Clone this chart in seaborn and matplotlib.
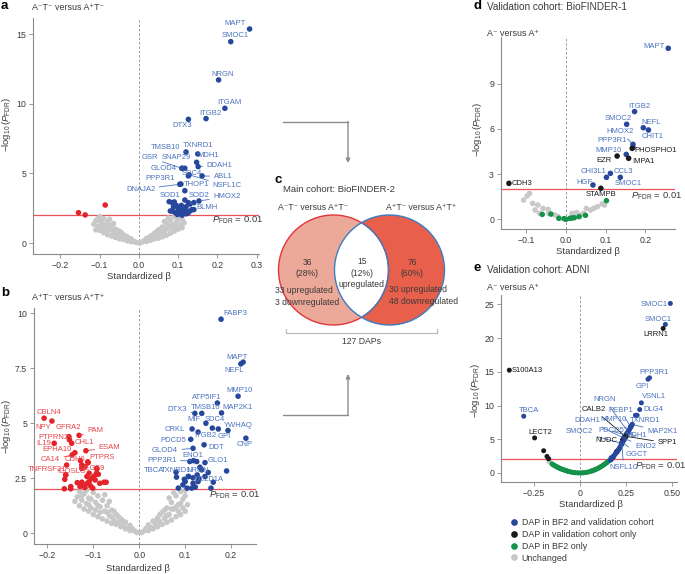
import numpy as np
import pandas as pd
import matplotlib.pyplot as plt
import seaborn as sns
from matplotlib.patches import Circle
from matplotlib.lines import Line2D

sns.set_theme(style="ticks")
plt.rcParams["font.family"] = ["Liberation Sans", "DejaVu Sans"]
plt.rcParams["mathtext.fontset"] = "custom"
plt.rcParams["mathtext.rm"] = "Liberation Sans"
plt.rcParams["mathtext.it"] = "Liberation Sans:italic"

BLUE, BLUE_TXT = "#26479B", "#4A72BE"
RED, RED_TXT = "#E3222A", "#E8434B"
GRAY, BLACK, GREEN = "#C8C8C8", "#1A1A1A", "#14924A"
AXC, TXT = "#8A8A8A", "#3A3A3A"
PAL = {"up": BLUE, "down": RED, "ns": GRAY, "both": BLUE, "val": BLACK, "bf2": GREEN}
LABEL_COL = {"up": BLUE_TXT, "down": RED_TXT, "both": BLUE_TXT, "val": BLACK}

# ---------------- panel a: A-T- vs A+T- ----------------
a_lab_genes = ["MAPT", "SMOC1", "NRGN", "ITGAM", "ITGB2", "DTX3", "TMSB10", "TXNRD1", "MDH1",
               "SNAP29", "GSR", "GLOD4", "DDAH1", "SDC4", "ABL1", "NSFL1C", "PPP3R1", "DNAJA2",
               "THOP1", "SOD1", "SOD2", "HMOX2", "BLMH"]
a_lab_beta = [0.282, 0.234, 0.203, 0.219, 0.171, 0.126, 0.120, 0.150, 0.147, 0.117, 0.109, 0.113,
              0.151, 0.126, 0.161, 0.128, 0.107, 0.104, 0.117, 0.077, 0.117, 0.153, 0.126]
a_lab_logp = [15.38, 14.47, 11.72, 9.68, 8.94, 8.89, 6.54, 6.40, 5.80, 5.37, 5.37, 5.35, 5.49, 4.82,
              4.82, 4.90, 4.24, 4.22, 3.76, 2.97, 3.09, 3.02, 2.90]
a_up_beta = [0.085, 0.090, 0.095, 0.100, 0.085, 0.092, 0.100, 0.110, 0.115, 0.120, 0.125, 0.130, 0.135,
             0.140, 0.105, 0.098, 0.110, 0.130, 0.120, 0.140, 0.080, 0.095, 0.088, 0.108, 0.118]
a_up_logp = [2.90, 2.95, 2.70, 2.50, 2.30, 2.20, 2.30, 2.40, 2.20, 2.10, 2.15, 2.30, 2.40, 2.40, 2.10,
             2.05, 2.00, 2.80, 2.60, 2.90, 2.30, 2.15, 2.60, 2.70, 2.35]
a_down_beta = [-0.086, -0.154, -0.137]
a_down_logp = [2.73, 2.18, 2.02]
a_ns_beta = [-0.005, -0.01, -0.015, -0.02, -0.02, -0.025, -0.03, -0.03, -0.035, -0.04, -0.04, -0.045,
             -0.05, -0.05, -0.055, -0.06, -0.06, -0.065, -0.07, -0.07, -0.075, -0.08, -0.08, -0.085,
             -0.09, -0.09, -0.095, -0.1, -0.1, -0.105, -0.11, -0.11, -0.115, -0.085, -0.075, -0.065,
             -0.095, -0.1, -0.055, -0.045, -0.105, -0.09, -0.07, -0.035, -0.06, -0.08,
             0.005, 0.01, 0.015, 0.02, 0.02, 0.025, 0.03, 0.03, 0.035, 0.04, 0.04, 0.045, 0.05, 0.05,
             0.055, 0.06, 0.06, 0.065, 0.07, 0.07, 0.075, 0.08, 0.08, 0.085, 0.09, 0.09, 0.095, 0.1,
             0.1, 0.105, 0.11, 0.11, 0.115, 0.085, 0.075, 0.065, 0.095, 0.1, 0.055, 0.045, 0.105,
             0.09, 0.07, 0.035, 0.06, 0.08]
a_ns_logp = [0.02, 0.08, 0.15, 0.1, 0.3, 0.2, 0.45, 0.15, 0.3, 0.6, 0.25, 0.45, 0.85, 0.3, 0.6, 1.0,
             0.4, 0.75, 1.25, 0.5, 0.95, 1.5, 0.6, 1.15, 1.75, 0.75, 1.4, 1.9, 0.9, 1.2, 1.6, 0.95,
             1.35, 0.9, 1.7, 1.4, 1.05, 1.6, 0.9, 0.75, 1.75, 1.3, 0.95, 0.5, 0.75, 1.1,
             0.03, 0.1, 0.2, 0.12, 0.35, 0.25, 0.5, 0.2, 0.35, 0.7, 0.3, 0.5, 0.95, 0.35, 0.65, 1.15,
             0.45, 0.85, 1.4, 0.55, 1.1, 1.65, 0.7, 1.3, 1.9, 0.85, 1.5, 1.95, 1.0, 1.3, 1.7, 1.1,
             1.45, 0.95, 1.8, 1.55, 1.15, 1.7, 1.0, 0.8, 1.85, 1.2, 1.0, 0.55, 0.8, 1.25]

# ---------------- panel b: A+T- vs A+T+ ----------------
b_up_genes = ["FABP3", "MAPT", "NEFL", "MMP10", "ATP5IF1", "MAP2K1", "TMSB10", "DTX3", "MIF", "SDC4",
              "YWHAQ", "GPI", "CRKL", "ITGB2", "CNP", "PDCD5", "DDT", "GLOD4", "ENO1", "GLO1",
              "PPP3R1", "TBCA", "TXNRD1", "NRGN", "CC2D1A"]
b_up_beta = [0.178, 0.226, 0.221, 0.215, 0.170, 0.179, 0.136, 0.121, 0.145, 0.159, 0.193, 0.172,
             0.115, 0.128, 0.232, 0.112, 0.141, 0.117, 0.125, 0.143, 0.118, 0.107, 0.117, 0.126, 0.130]
b_up_logp = [9.73, 7.78, 7.70, 6.23, 5.92, 5.47, 5.45, 5.45, 5.00, 4.78, 4.67, 4.74, 4.74, 4.60,
             4.32, 4.27, 4.02, 3.86, 3.26, 3.21, 3.30, 2.58, 2.52, 2.65, 2.47]
b_up2_beta = [0.080, 0.081, 0.085, 0.100, 0.104, 0.107, 0.114, 0.117, 0.136, 0.150, 0.161, 0.156,
              0.143, 0.190, 0.095, 0.122, 0.128, 0.132, 0.098, 0.110]
b_up2_logp = [2.77, 2.55, 2.05, 2.35, 2.05, 2.58, 2.05, 2.27, 2.88, 2.76, 2.32, 2.05, 2.58, 2.83,
              2.20, 2.10, 2.35, 3.00, 2.45, 3.26]
b_dn_genes = ["CBLN4", "NPY", "GFRA2", "PAM", "PTPRN2", "CHL1", "IL19", "EPHA10", "ESAM", "CA14",
              "CDH6", "PTPRS", "TNFRSF21", "ICOSLG", "MEGF9"]
b_dn_beta = [-0.207, -0.190, -0.153, -0.131, -0.152, -0.147, -0.185, -0.140, -0.116, -0.146, -0.128,
             -0.112, -0.160, -0.125, -0.092]
b_dn_logp = [5.23, 5.10, 4.39, 4.45, 4.25, 4.09, 4.09, 3.66, 3.75, 3.56, 3.30, 3.25, 2.65, 2.95, 2.93]
b_dn2_beta = [-0.163, -0.149, -0.149, -0.162, -0.160, -0.158, -0.129, -0.125, -0.122, -0.118, -0.113,
              -0.109, -0.106, -0.101, -0.096, -0.093, -0.089, -0.086, -0.093, -0.109, -0.125, -0.118,
              -0.111, -0.077, -0.072, -0.114, -0.104, -0.135, -0.098]
b_dn2_logp = [2.02, 2.12, 2.02, 2.45, 2.65, 3.10, 2.12, 2.32, 2.20, 2.08, 2.27, 2.35, 2.15, 2.05, 2.42,
              2.73, 2.68, 2.27, 2.95, 2.73, 3.10, 3.03, 3.21, 2.32, 2.32, 2.58, 2.50, 2.30, 2.60]
b_ns_beta = [-0.005, -0.01, -0.015, -0.02, -0.02, -0.025, -0.03, -0.03, -0.035, -0.04, -0.04, -0.045,
             -0.05, -0.05, -0.055, -0.06, -0.06, -0.065, -0.07, -0.07, -0.075, -0.08, -0.08, -0.085,
             -0.09, -0.09, -0.095, -0.1, -0.1, -0.105, -0.11, -0.11, -0.115, -0.12, -0.12, -0.125,
             -0.13, -0.135, -0.14, -0.085, -0.075, -0.065, -0.095, -0.105, -0.055, -0.045, -0.13, -0.115,
             -0.11, -0.09, -0.07, -0.125, -0.035, -0.06,
             0.005, 0.01, 0.015, 0.02, 0.02, 0.025, 0.03, 0.03, 0.035, 0.04, 0.04, 0.045, 0.05, 0.05,
             0.055, 0.06, 0.06, 0.065, 0.07, 0.07, 0.075, 0.08, 0.08, 0.085, 0.09, 0.09, 0.095, 0.1,
             0.1, 0.105, 0.085, 0.075, 0.065, 0.095, 0.055, 0.045, 0.1, 0.07, 0.09, 0.06, 0.08, 0.035]
b_ns_logp = [0.03, 0.1, 0.2, 0.12, 0.35, 0.25, 0.5, 0.2, 0.35, 0.65, 0.3, 0.5, 0.85, 0.4, 0.6, 1.05,
             0.45, 0.8, 1.25, 0.55, 1.0, 1.5, 0.65, 1.2, 1.7, 0.75, 1.4, 1.85, 0.85, 1.15, 1.6, 1.0,
             1.35, 1.8, 1.1, 1.5, 1.25, 1.65, 1.45, 0.95, 1.75, 1.45, 1.05, 1.55, 1.0, 0.75, 1.9, 1.95,
             1.3, 1.25, 0.95, 1.7, 0.55, 0.75,
             0.03, 0.1, 0.22, 0.12, 0.38, 0.25, 0.55, 0.2, 0.38, 0.7, 0.3, 0.52, 0.95, 0.4, 0.68, 1.15,
             0.5, 0.85, 1.4, 0.6, 1.1, 1.7, 0.75, 1.3, 1.9, 0.85, 1.55, 1.95, 1.0, 1.3, 1.0, 1.85,
             1.6, 1.15, 1.05, 0.85, 1.7, 1.1, 1.35, 0.8, 1.2, 0.55]

# ---------------- panel c: Venn counts ----------------
venn_titles = ["A\u207bT\u207b versus A\u207aT\u207b", "A\u207aT\u207b versus A\u207aT\u207a"]
venn_counts = [36, 15, 76]
venn_up = [33, 15, 30]
venn_down = [3, 0, 48]
venn_total = 127

# ---------------- panel d: BioFINDER-1 ----------------
d_genes = ["MAPT", "ITGB2", "SMOC2", "NEFL", "CHIT1", "HMOX2", "PPP3R1", "MMP10", "PHOSPHO1", "EZR",
           "IMPA1", "CHI3L1", "CCL3", "SMOC1", "HGF", "STAMPB", "CDH3"]
d_beta = [0.258, 0.173, 0.153, 0.195, 0.208, 0.169, 0.169, 0.152, 0.167, 0.129, 0.158, 0.102, 0.112,
          0.137, 0.068, 0.088, -0.144]
d_logp = [11.35, 7.15, 6.31, 6.08, 5.93, 4.98, 4.78, 4.31, 4.71, 4.20, 4.05, 2.79, 3.05, 2.79, 2.28,
          2.06, 2.39]
d_status = ["both"] * 8 + ["val"] * 3 + ["both"] * 4 + ["val"] * 2
d_bf2_beta = [-0.060, -0.038, -0.018, 0.0, 0.010, 0.021, 0.033, 0.049, 0.102, -0.005, 0.015]
d_bf2_logp = [0.33, 0.35, 0.07, 0.0, 0.07, 0.11, 0.18, 0.27, 1.24, 0.05, 0.09]
d_ns_beta = [-0.107, -0.092, -0.098, -0.084, -0.071, -0.058, -0.045, -0.044, -0.028, -0.020, 0.027,
             0.036, 0.051, 0.062, 0.070, 0.079, 0.091, 0.097, -0.078, -0.067, 0.015, 0.044]
d_ns_logp = [1.28, 1.72, 1.55, 1.06, 0.95, 0.73, 0.66, 0.40, 0.29, 0.18, 0.46, 0.29, 0.73, 0.62, 0.73,
             0.84, 1.02, 0.95, 0.62, 0.40, 0.40, 0.40]

# ---------------- panel e: ADNI ----------------
e_genes = ["SMOC1", "SMOC1", "LRRN1", "S100A13", "PPP3R1", "GPI", "VSNL1", "DLG4", "TBCA", "TXNRD1",
           "LECT2", "NRGN", "CALB2", "PEBP1", "MMP10", "DDAH1", "PDCD5", "MAP2K1", "SMOC2", "MDH1",
           "NUDC", "SPP1", "ENO2", "GGCT", "NSFL1C"]
e_beta = [0.491, 0.464, 0.452, -0.381, 0.378, 0.370, 0.334, 0.325, -0.303, 0.311, -0.244, 0.262,
          0.245, 0.275, 0.268, 0.238, 0.250, 0.285, 0.225, 0.255, 0.232, 0.248, 0.242, 0.230, 0.228]
e_logp = [25.15, 22.03, 21.44, 15.25, 14.11, 13.91, 10.40, 9.41, 8.42, 8.56, 5.20, 6.10, 5.50, 6.90,
          6.40, 5.20, 5.60, 7.20, 4.40, 5.90, 4.90, 5.45, 5.10, 4.60, 4.50]
e_status = ["both", "both", "val", "val", "both", "both", "both", "both", "both", "both", "val",
            "both", "val", "both", "both", "both", "both", "both", "both", "both", "val", "val",
            "both", "both", "both"]
e_both_beta = [0.302, 0.284, 0.269, 0.257, 0.242, 0.230, 0.217, 0.203, 0.184, 0.175, 0.166, 0.222,
               0.210, 0.195, 0.190, 0.236, 0.278, 0.262, 0.213, 0.198, 0.180, 0.170]
e_both_logp = [8.56, 7.18, 6.44, 5.84, 4.95, 4.36, 3.76, 3.12, 2.52, 2.13, 1.88, 4.00, 3.40, 2.90,
               2.70, 4.70, 6.80, 6.00, 3.55, 3.05, 2.40, 2.25]
e_val_beta = [-0.195, -0.177, -0.168, 0.182, 0.198, 0.213, 0.226, 0.250, 0.200, 0.170]
e_val_logp = [3.30, 2.45, 2.10, 2.35, 3.00, 3.60, 4.20, 5.35, 3.20, 2.00]
e_bf2_beta = [-0.150, -0.140, -0.130, -0.120, -0.110, -0.100, -0.090, -0.080, -0.070, -0.060, -0.050,
              -0.040, -0.030, -0.020, -0.010, 0.000, 0.010, 0.020, 0.030, 0.040, 0.050, 0.060, 0.070,
              0.080, 0.090, 0.100, 0.110, 0.120, 0.130, 0.140, 0.150, 0.158, -0.145, -0.125, -0.105,
              -0.085, -0.065, 0.065, 0.085, 0.105, 0.125, 0.145, -0.135, -0.115, -0.095, -0.075,
              0.075, 0.095, 0.115, 0.135]
e_bf2_logp = [1.35, 1.15, 1.00, 0.85, 0.72, 0.60, 0.50, 0.40, 0.31, 0.23, 0.16, 0.10, 0.06, 0.03,
              0.01, 0.00, 0.01, 0.03, 0.06, 0.10, 0.17, 0.25, 0.34, 0.45, 0.57, 0.70, 0.85, 1.02,
              1.20, 1.40, 1.60, 1.80, 1.25, 0.92, 0.66, 0.45, 0.27, 0.29, 0.50, 0.78, 1.10, 1.50,
              1.08, 0.78, 0.55, 0.36, 0.40, 0.64, 0.94, 1.30]
e_ns_beta = [-0.168, -0.123, 0.027, -0.045, 0.015, -0.160]
e_ns_logp = [1.75, 0.92, 0.05, 0.12, 0.02, 1.60]

legend_labels = ["DAP in BF2 and validation cohort", "DAP in validation cohort only",
                 "DAP in BF2 only", "Unchanged"]

# label layout: text x, text y, alignment, leader line
a_lab_pos = [(0.245, 15.74, "center", 0), (0.245, 14.88, "center", 0), (0.214, 12.10, "center", 0),
             (0.231, 10.09, "center", 0), (0.181, 9.30, "center", 0), (0.109, 8.44, "center", 0),
             (0.068, 6.85, "center", 1), (0.150, 7.00, "center", 1), (0.177, 6.28, "center", 0),
             (0.096, 6.13, "center", 1), (0.029, 6.13, "center", 1), (0.063, 5.34, "center", 1),
             (0.205, 5.56, "center", 1), (0.134, 5.00, "center", 0), (0.214, 4.79, "center", 1),
             (0.224, 4.10, "center", 1), (0.055, 4.60, "center", 0), (0.004, 3.86, "center", 1),
             (0.147, 4.17, "center", 0), (0.080, 3.38, "center", 0), (0.153, 3.40, "center", 0),
             (0.224, 3.33, "center", 1), (0.173, 2.54, "center", 1)]
b_up_pos = [(0.208, 10.0, "center", 0), (0.213, 8.0, "center", 0), (0.207, 7.42, "center", 0),
            (0.219, 6.47, "center", 0), (0.146, 6.17, "center", 0), (0.213, 5.73, "center", 0),
            (0.145, 5.70, "center", 0), (0.083, 5.64, "center", 1), (0.120, 5.18, "center", 0),
            (0.164, 5.18, "center", 0), (0.215, 4.89, "center", 0), (0.184, 4.39, "center", 0),
            (0.078, 4.73, "center", 0), (0.143, 4.44, "center", 0), (0.230, 4.05, "center", 0),
            (0.075, 4.21, "center", 0), (0.167, 3.89, "center", 0), (0.056, 3.74, "center", 1),
            (0.116, 3.53, "center", 0), (0.172, 3.29, "center", 0), (0.049, 3.29, "center", 1),
            (0.032, 2.83, "center", 0), (0.081, 2.83, "center", 0), (0.128, 2.83, "center", 0),
            (0.150, 2.45, "center", 0)]
b_dn_pos = [(-0.196, 5.48, "center", 0), (-0.209, 4.80, "center", 0), (-0.154, 4.80, "center", 1),
            (-0.096, 4.65, "center", 1), (-0.187, 4.35, "center", 0), (-0.120, 4.14, "center", 0),
            (-0.207, 4.09, "center", 0), (-0.178, 3.82, "center", 0), (-0.065, 3.89, "center", 1),
            (-0.193, 3.33, "center", 1), (-0.140, 3.36, "center", 0), (-0.082, 3.45, "center", 0),
            (-0.201, 2.88, "center", 0), (-0.147, 2.80, "center", 0), (-0.104, 2.95, "center", 0)]
d_pos = [(0.222, 11.46, "center", 0), (0.184, 7.48, "center", 0), (0.131, 6.70, "center", 0),
         (0.215, 6.44, "center", 0), (0.219, 5.49, "center", 0), (0.136, 5.82, "center", 1),
         (0.116, 5.22, "center", 0), (0.108, 4.54, "center", 0), (0.172, 4.54, "left", 0),
         (0.097, 3.92, "center", 0), (0.195, 3.83, "center", 0), (0.069, 3.16, "center", 0),
         (0.144, 3.16, "center", 0), (0.158, 2.39, "center", 0), (0.047, 2.43, "center", 0),
         (0.089, 1.68, "center", 0), (-0.137, 2.39, "left", 0)]
e_pos = [(0.405, 25.05, "center", 0), (0.428, 22.82, "center", 0), (0.415, 20.59, "center", 0),
         (-0.367, 15.15, "left", 0), (0.401, 14.90, "center", 0), (0.338, 12.87, "center", 0),
         (0.401, 11.29, "center", 0), (0.401, 9.41, "center", 0), (-0.276, 9.21, "center", 0),
         (0.356, 7.72, "center", 0), (-0.213, 5.94, "center", 0), (0.134, 10.89, "center", 1),
         (0.076, 9.41, "center", 1), (0.220, 9.31, "center", 1), (0.184, 7.92, "center", 1),
         (0.040, 7.82, "center", 1), (0.172, 6.24, "center", 1), (0.446, 6.09, "center", 1),
         (0.0, 6.09, "center", 1), (0.307, 5.50, "center", 1), (0.145, 4.75, "center", 1),
         (0.473, 4.46, "center", 1), (0.356, 3.86, "center", 1), (0.311, 2.77, "center", 1),
         (0.238, 0.79, "center", 1)]


def frame(parts):
    return pd.concat([pd.DataFrame({"beta": b, "logp": p, "status": s}) for b, p, s in parts],
                     ignore_index=True)


W, H = 685, 574
fig = plt.figure(figsize=(W / 100, H / 100), dpi=100)
bg = fig.add_axes([0, 0, 1, 1])
bg.set_xlim(0, W)
bg.set_ylim(H, 0)
bg.axis("off")


def px_axes(l, t, r, b):
    return fig.add_axes([l / W, 1 - b / H, (r - l) / W, (b - t) / H])


def volcano(ax, df, xlim, ylim, xticks, yticks, xtl=None, s=16, sig_xy=None):
    sns.scatterplot(data=df, x="beta", y="logp", hue="status", palette=PAL, s=s, linewidth=0,
                    legend=False, ax=ax, zorder=3)
    ax.axvline(0, color="#9A9A9A", ls=(0, (2.5, 2)), lw=0.7, zorder=1)
    ax.axhline(2, color="#E8535A", lw=0.9, zorder=2)
    ax.set_xlim(*xlim)
    ax.set_ylim(*ylim)
    ax.set_xticks(xticks)
    if xtl is not None:
        ax.set_xticklabels(xtl)
    ax.set_yticks(yticks)
    ax.set_yticklabels([f"{v:g}" for v in yticks])
    for sp in ["top", "right"]:
        ax.spines[sp].set_visible(False)
    for sp in ["left", "bottom"]:
        ax.spines[sp].set_color(AXC)
        ax.spines[sp].set_linewidth(0.8)
    ax.tick_params(length=3, width=0.6, color=AXC, labelcolor=TXT, labelsize=6.3, pad=2)
    ax.set_xlabel("Standardized \u03b2", fontsize=6.8, color=TXT)
    ax.set_ylabel(r"$-\log_{10}(P_{\mathrm{FDR}})$", fontsize=6.8, color=TXT)
    ax.patch.set_alpha(0)
    if sig_xy:
        ax.text(sig_xy[0], sig_xy[1], r"$P_{\mathrm{FDR}}$ = 0.01", fontsize=6.8, color=TXT,
                ha="center", va="center")


def add_labels(ax, genes, xs, ys, layout, status, fs=5.5):
    for g, x, y, (tx, ty, ha, lead), st in zip(genes, xs, ys, layout, status):
        c = LABEL_COL[st]
        if lead:
            ax.annotate(g, xy=(x, y), xytext=(tx, ty), ha=ha, va="center", fontsize=fs, color=c,
                        zorder=4, arrowprops=dict(arrowstyle="-", color=c, lw=0.6,
                                                  shrinkA=0.5, shrinkB=1.5))
        else:
            ax.text(tx, ty, g, ha=ha, va="center", fontsize=fs, color=c, zorder=4)


# panel a
ax_a = px_axes(33, 18, 259, 254)
df_a = frame([(a_ns_beta, a_ns_logp, "ns"), (a_down_beta, a_down_logp, "down"),
              (a_up_beta, a_up_logp, "up"), (a_lab_beta, a_lab_logp, "up")])
volcano(ax_a, df_a, (-0.27, 0.306), (-0.79, 16.17), [-0.2, -0.1, 0, 0.1, 0.2, 0.3], [0, 5, 10, 15],
        sig_xy=(0.252, 1.6))
add_labels(ax_a, a_lab_genes, a_lab_beta, a_lab_logp, a_lab_pos, ["up"] * len(a_lab_genes))
ax_a.xaxis.set_label_coords(0.47, -0.076)
ax_a.yaxis.set_label_coords(-0.088, 0.55)

# panel b
ax_b = px_axes(34, 308, 256, 544)
df_b = frame([(b_ns_beta, b_ns_logp, "ns"), (b_dn2_beta, b_dn2_logp, "down"),
              (b_dn_beta, b_dn_logp, "down"), (b_up2_beta, b_up2_logp, "up"),
              (b_up_beta, b_up_logp, "up")])
volcano(ax_b, df_b, (-0.229, 0.254), (-0.49, 10.24), [-0.2, -0.1, 0, 0.1, 0.2],
        [0, 2.5, 5, 7.5, 10], sig_xy=(0.208, 1.74))
add_labels(ax_b, b_up_genes, b_up_beta, b_up_logp, b_up_pos, ["up"] * len(b_up_genes))
add_labels(ax_b, b_dn_genes, b_dn_beta, b_dn_logp, b_dn_pos, ["down"] * len(b_dn_genes))
ax_b.xaxis.set_label_coords(0.47, -0.085)
ax_b.yaxis.set_label_coords(-0.095, 0.5)

# panel d
ax_d = px_axes(501, 37, 675, 229)
df_d = frame([(d_ns_beta, d_ns_logp, "ns"), (d_bf2_beta, d_bf2_logp, "bf2"),
              (d_beta, d_logp, d_status)])
volcano(ax_d, df_d, (-0.164, 0.275), (-0.64, 12.1), [-0.1, 0, 0.1, 0.2], [0, 3, 6, 9],
        sig_xy=(0.228, 1.5))
add_labels(ax_d, d_genes, d_beta, d_logp, d_pos, d_status)
ax_d.xaxis.set_label_coords(0.5, -0.094)
ax_d.yaxis.set_label_coords(-0.1, 0.52)

# panel e
ax_e = px_axes(501, 295, 677, 482)
df_e = frame([(e_ns_beta, e_ns_logp, "ns"), (e_bf2_beta, e_bf2_logp, "bf2"),
              (e_val_beta, e_val_logp, "val"), (e_both_beta, e_both_logp, "both"),
              (e_beta, e_logp, e_status)])
volcano(ax_e, df_e, (-0.426, 0.527), (-1.34, 26.4), [-0.25, 0, 0.25, 0.5], [0, 5, 10, 15, 20, 25],
        xtl=["\u22120.25", "0", "0.25", "0.50"], s=13, sig_xy=(0.44, 1.05))
add_labels(ax_e, e_genes, e_beta, e_logp, e_pos, e_status)
ax_e.xaxis.set_label_coords(0.51, -0.096)
ax_e.yaxis.set_label_coords(-0.11, 0.49)

handles = [Line2D([], [], marker="o", ls="", color=c, markersize=3.8, label=l)
           for c, l in zip([BLUE, BLACK, GREEN, GRAY], legend_labels)]
fig.legend(handles=handles, loc="upper left", bbox_to_anchor=(511 / W, 1 - 518 / H), frameon=False,
           fontsize=6.4, handlelength=0.7, handletextpad=0.5, labelspacing=0.32, borderpad=0,
           borderaxespad=0, labelcolor=TXT)

# ---------------- panel letters, titles ----------------
for letter, x, y in [("a", 1, 6), ("b", 1, 293), ("c", 275, 180), ("d", 474, 6), ("e", 474, 268)]:
    bg.text(x, y, letter, fontsize=9.5, fontweight="bold", color="black", va="center", ha="left")
bg.text(32, 8, "A\u207bT\u207b versus A\u207aT\u207b", fontsize=6.4, color=TXT, va="center")
bg.text(32, 297, "A\u207aT\u207b versus A\u207aT\u207a", fontsize=6.4, color=TXT, va="center")
bg.text(487, 7, "Validation cohort: BioFINDER-1", fontsize=7.2, color=TXT, va="center")
bg.text(487, 34, "A\u207b versus A\u207a", fontsize=6.4, color=TXT, va="center")
bg.text(487, 270, "Validation cohort: ADNI", fontsize=7.2, color=TXT, va="center")
bg.text(487, 287, "A\u207b versus A\u207a", fontsize=6.4, color=TXT, va="center")

# ---------------- panel c: Venn ----------------
ARC = "#8C8C8C"
bg.plot([283, 348], [122, 122], color=ARC, lw=1.0)
bg.annotate("", xy=(348, 163), xytext=(348, 121.5),
            arrowprops=dict(arrowstyle="-|>", color=ARC, lw=1.0, mutation_scale=6,
                            shrinkA=0, shrinkB=0))
bg.plot([283, 348], [415, 415], color=ARC, lw=1.0)
bg.annotate("", xy=(348, 374), xytext=(348, 415.5),
            arrowprops=dict(arrowstyle="-|>", color=ARC, lw=1.0, mutation_scale=6,
                            shrinkA=0, shrinkB=0))

bg.text(283, 189, "Main cohort: BioFINDER-2", fontsize=6.8, color=TXT, va="center")
bg.text(313.5, 207, venn_titles[0], fontsize=6.2, color=TXT, va="center", ha="center")
bg.text(421, 207, venn_titles[1], fontsize=6.2, color=TXT, va="center", ha="center")

c1, c2, r = (333.5, 270), (389.5, 270), 55
left_fill = Circle(c1, r, fc="#ECA899", ec="none", zorder=1)
right_fill = Circle(c2, r, fc="#E8604B", ec="none", zorder=1)
bg.add_patch(left_fill)
bg.add_patch(right_fill)
lens = Circle(c2, r, fc="white", ec="none", zorder=2)
bg.add_patch(lens)
lens.set_clip_path(left_fill)
bg.add_patch(Circle(c1, r, fc="none", ec="#E2343C", lw=1.0, zorder=3))
bg.add_patch(Circle(c2, r, fc="none", ec="#3B7DC2", lw=1.0, zorder=3))
inner = Circle(c1, r, fc="none", ec="#3B7DC2", lw=1.0, zorder=4)
bg.add_patch(inner)
inner.set_clip_path(Circle(c2, r, transform=bg.transData))

pct = [round(v / venn_total * 100) for v in venn_counts]
bg.text(307, 268, f"{venn_counts[0]}\n({pct[0]}%)", fontsize=6.2, color=TXT, ha="center",
        va="center", linespacing=1.3)
bg.text(275, 296.5, f"{venn_up[0]} upregulated\n{venn_down[0]} downregulated", fontsize=6.2,
        color=TXT, ha="left", va="center", linespacing=1.3)
bg.text(362, 273, f"{venn_counts[1]}\n({pct[1]}%)\nupregulated", fontsize=6.2, color=TXT,
        ha="center", va="center", linespacing=1.3)
bg.text(412, 268, f"{venn_counts[2]}\n({pct[2]}%)", fontsize=6.2, color=TXT, ha="center",
        va="center", linespacing=1.3)
bg.text(389, 295.5, f"{venn_up[2]} upregulated\n{venn_down[2]} downregulated", fontsize=6.2,
        color=TXT, ha="left", va="center", linespacing=1.3)
bg.plot([286, 286, 437, 437], [329, 333, 333, 329], color="#BBBBBB", lw=0.9)
bg.text(362, 341, f"{venn_total} DAPs", fontsize=6.2, color=TXT, ha="center", va="center")

fig.savefig("out.png", dpi=100)
